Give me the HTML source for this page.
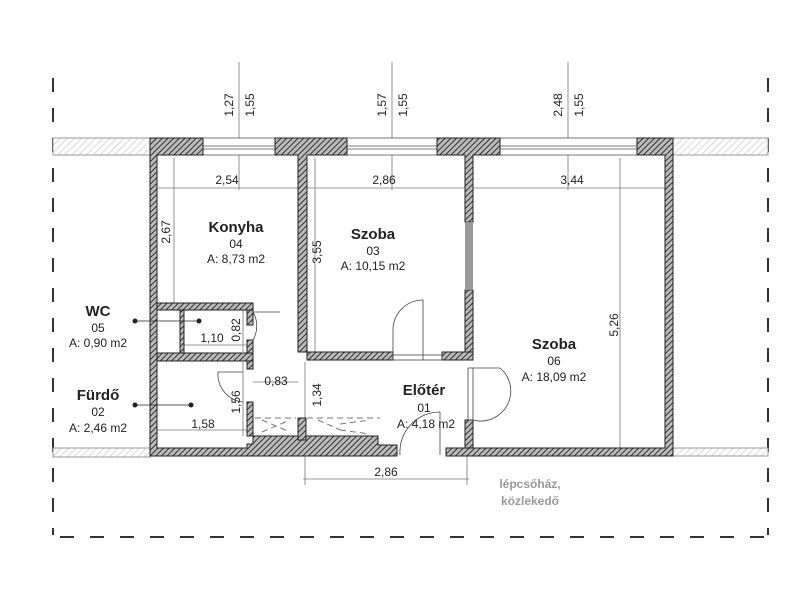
<!DOCTYPE html>
<html><head><meta charset="utf-8"><style>html,body{margin:0;padding:0;background:#fff}svg{display:block}text{font-family:"Liberation Sans",sans-serif;fill:#222}</style></head><body>
<svg width="800" height="600" viewBox="0 0 800 600" xmlns="http://www.w3.org/2000/svg">
<defs>
<pattern id="h" width="4" height="4" patternUnits="userSpaceOnUse" patternTransform="rotate(45)"><rect width="4" height="4" fill="#bbb"/><line x1="0" y1="0" x2="0" y2="4" stroke="#333" stroke-width="2"/></pattern>
<pattern id="hl" width="5" height="5" patternUnits="userSpaceOnUse" patternTransform="rotate(45)"><rect width="5" height="5" fill="#fff"/><line x1="0" y1="0" x2="0" y2="5" stroke="#ccc" stroke-width="1.5"/></pattern>
</defs>
<!-- dashed boundary -->
<g stroke="#333" stroke-width="2" stroke-dasharray="14,16" fill="none">
<line x1="53" y1="78" x2="53" y2="535"/>
<line x1="768" y1="78" x2="768" y2="535"/>
<line x1="60" y1="537" x2="768" y2="537"/>
</g>
<!-- outside bands -->
<g stroke="#999" stroke-width="1">
<rect x="53" y="138" width="97" height="17" fill="url(#hl)"/>
<rect x="673" y="138" width="95" height="17" fill="url(#hl)"/>
<rect x="53" y="448" width="97" height="9" fill="url(#hl)"/>
<rect x="673" y="448" width="95" height="8" fill="url(#hl)"/>
</g>
<!-- thin dim/grid lines -->
<g stroke="#777" stroke-width="0.8" fill="none">
<line x1="239" y1="62" x2="239" y2="190"/>
<line x1="392" y1="62" x2="392" y2="190"/>
<line x1="568" y1="62" x2="568" y2="190"/>
<line x1="157" y1="188" x2="298" y2="188"/>
<line x1="307" y1="188" x2="465" y2="188"/>
<line x1="473" y1="188" x2="665" y2="188"/>
<line x1="174" y1="158" x2="174" y2="303"/>
<line x1="315" y1="158" x2="315" y2="352"/>
<line x1="620" y1="158" x2="620" y2="448"/>
<line x1="184" y1="345" x2="247" y2="345"/>
<line x1="157" y1="430" x2="247" y2="430"/>
<line x1="253" y1="382" x2="298" y2="382"/>
<line x1="305" y1="362" x2="305" y2="440"/>
<line x1="305" y1="440" x2="305" y2="485"/>
<line x1="467" y1="440" x2="467" y2="485"/>
<line x1="303" y1="479" x2="469" y2="479"/>
<line x1="243" y1="362" x2="243" y2="436"/>
<line x1="243" y1="310" x2="243" y2="352"/>
</g>
<!-- windows -->
<g stroke="#555" stroke-width="0.8" fill="#fff">
<rect x="203" y="138" width="72" height="17"/><line x1="203" y1="146" x2="275" y2="146"/><line x1="203" y1="149" x2="275" y2="149"/>
<rect x="347" y="138" width="90" height="17"/><line x1="347" y1="146" x2="437" y2="146"/><line x1="347" y1="149" x2="437" y2="149"/>
<rect x="500" y="138" width="137" height="17"/><line x1="500" y1="146" x2="637" y2="146"/><line x1="500" y1="149" x2="637" y2="149"/>
</g>
<!-- walls -->
<g fill="url(#h)" stroke="#222" stroke-width="1">
<path d="M150 138 H203 V155 H157 V448 H247 V444 H253 V436 H378 V445 H397 V456 H150 Z"/>
<path d="M275 138 H347 V155 H307 V352 H298 V155 H275 Z"/>
<path d="M437 138 H500 V155 H473 V222 H465 V155 H437 Z"/>
<path d="M637 138 H673 V456 H446 V448 H665 V155 H637 Z"/>
<rect x="465" y="290" width="8" height="68"/>
<rect x="465" y="420" width="8" height="28"/>
<rect x="307" y="352" width="86" height="8"/>
<rect x="442" y="352" width="31" height="8"/>
<rect x="157" y="303" width="96" height="7"/>
<rect x="157" y="353" width="96" height="8"/>
<rect x="247" y="310" width="6" height="15"/>
<rect x="247" y="340" width="6" height="13"/>
<rect x="247" y="361" width="6" height="8"/>
<rect x="247" y="402" width="6" height="34"/>
<rect x="180" y="310" width="4" height="43"/>
<rect x="298" y="418" width="8" height="22"/>
</g>
<rect x="465" y="222" width="8" height="68" fill="#999"/>
<!-- doors -->
<g stroke="#444" stroke-width="0.8" fill="none">
<path d="M253 312 H280 M253 312 A28 28 0 0 1 253 340"/>
<path d="M393 360 V330 A30 30 0 0 1 423 300 V360"/>
<path d="M473 368 H500 A30 30 0 0 1 473 420"/>
<path d="M243 372 H218 A28 28 0 0 0 243 402"/>
<path d="M400 455 A40 40 0 0 1 440 412 V455"/>
<rect x="393" y="355" width="49" height="5"/>
<rect x="468" y="368" width="5" height="52"/>
</g>
<g stroke="#777" stroke-width="1" stroke-dasharray="6,4" fill="none">
<line x1="255" y1="418" x2="296" y2="418"/><line x1="307" y1="418" x2="380" y2="418"/>
<path d="M262 420 L290 432 M262 432 L290 420 M318 420 L345 432 M340 424 L370 420 M340 430 L370 434"/>
</g>
<!-- dots -->
<g fill="#222"><circle cx="135" cy="321" r="2.5"/><circle cx="199" cy="321" r="2.5"/><circle cx="135" cy="405" r="2.5"/><circle cx="191" cy="405" r="2.5"/></g>
<g stroke="#222" stroke-width="0.8"><line x1="135" y1="321" x2="199" y2="321"/><line x1="135" y1="405" x2="191" y2="405"/></g>
<!-- dimension texts -->
<g font-size="12" text-anchor="middle">
<text transform="translate(233,105) rotate(-90)">1,27</text>
<text transform="translate(254,105) rotate(-90)">1,55</text>
<text transform="translate(386,105) rotate(-90)">1,57</text>
<text transform="translate(407,105) rotate(-90)">1,55</text>
<text transform="translate(562,105) rotate(-90)">2,48</text>
<text transform="translate(583,105) rotate(-90)">1,55</text>
<text x="227" y="184">2,54</text>
<text x="384" y="184">2,86</text>
<text x="572" y="184">3,44</text>
<text transform="translate(170,232) rotate(-90)">2,67</text>
<text transform="translate(321,252) rotate(-90)">3,55</text>
<text transform="translate(618,325) rotate(-90)">5,26</text>
<text x="212" y="342">1,10</text>
<text transform="translate(240,330) rotate(-90)">0,82</text>
<text x="276" y="385">0,83</text>
<text transform="translate(240,402) rotate(-90)">1,56</text>
<text transform="translate(321,395) rotate(-90)">1,34</text>
<text x="203" y="428">1,58</text>
<text x="386" y="476">2,86</text>
</g>
<!-- room labels -->
<g text-anchor="middle">
<text x="236" y="232" font-size="15" font-weight="bold">Konyha</text>
<text x="236" y="248" font-size="12">04</text>
<text x="236" y="263" font-size="12">A: 8,73 m2</text>
<text x="373" y="239" font-size="15" font-weight="bold">Szoba</text>
<text x="373" y="255" font-size="12">03</text>
<text x="373" y="270" font-size="12">A: 10,15 m2</text>
<text x="554" y="349" font-size="15" font-weight="bold">Szoba</text>
<text x="554" y="365" font-size="12">06</text>
<text x="554" y="381" font-size="12">A: 18,09 m2</text>
<text x="424" y="395" font-size="15" font-weight="bold">Előtér</text>
<text x="424" y="412" font-size="12">01</text>
<text x="426" y="428" font-size="12">A: 4,18 m2</text>
<text x="98" y="316" font-size="15" font-weight="bold">WC</text>
<text x="98" y="332" font-size="12">05</text>
<text x="98" y="347" font-size="12">A: 0,90 m2</text>
<text x="98" y="400" font-size="15" font-weight="bold">Fürdő</text>
<text x="98" y="416" font-size="12">02</text>
<text x="98" y="432" font-size="12">A: 2,46 m2</text>
<text x="530" y="488" font-size="12" font-weight="bold" style="fill:#999">lépcsőház,</text>
<text x="530" y="505" font-size="12" font-weight="bold" style="fill:#999">közlekedő</text>
</g>
</svg>
</body></html>
